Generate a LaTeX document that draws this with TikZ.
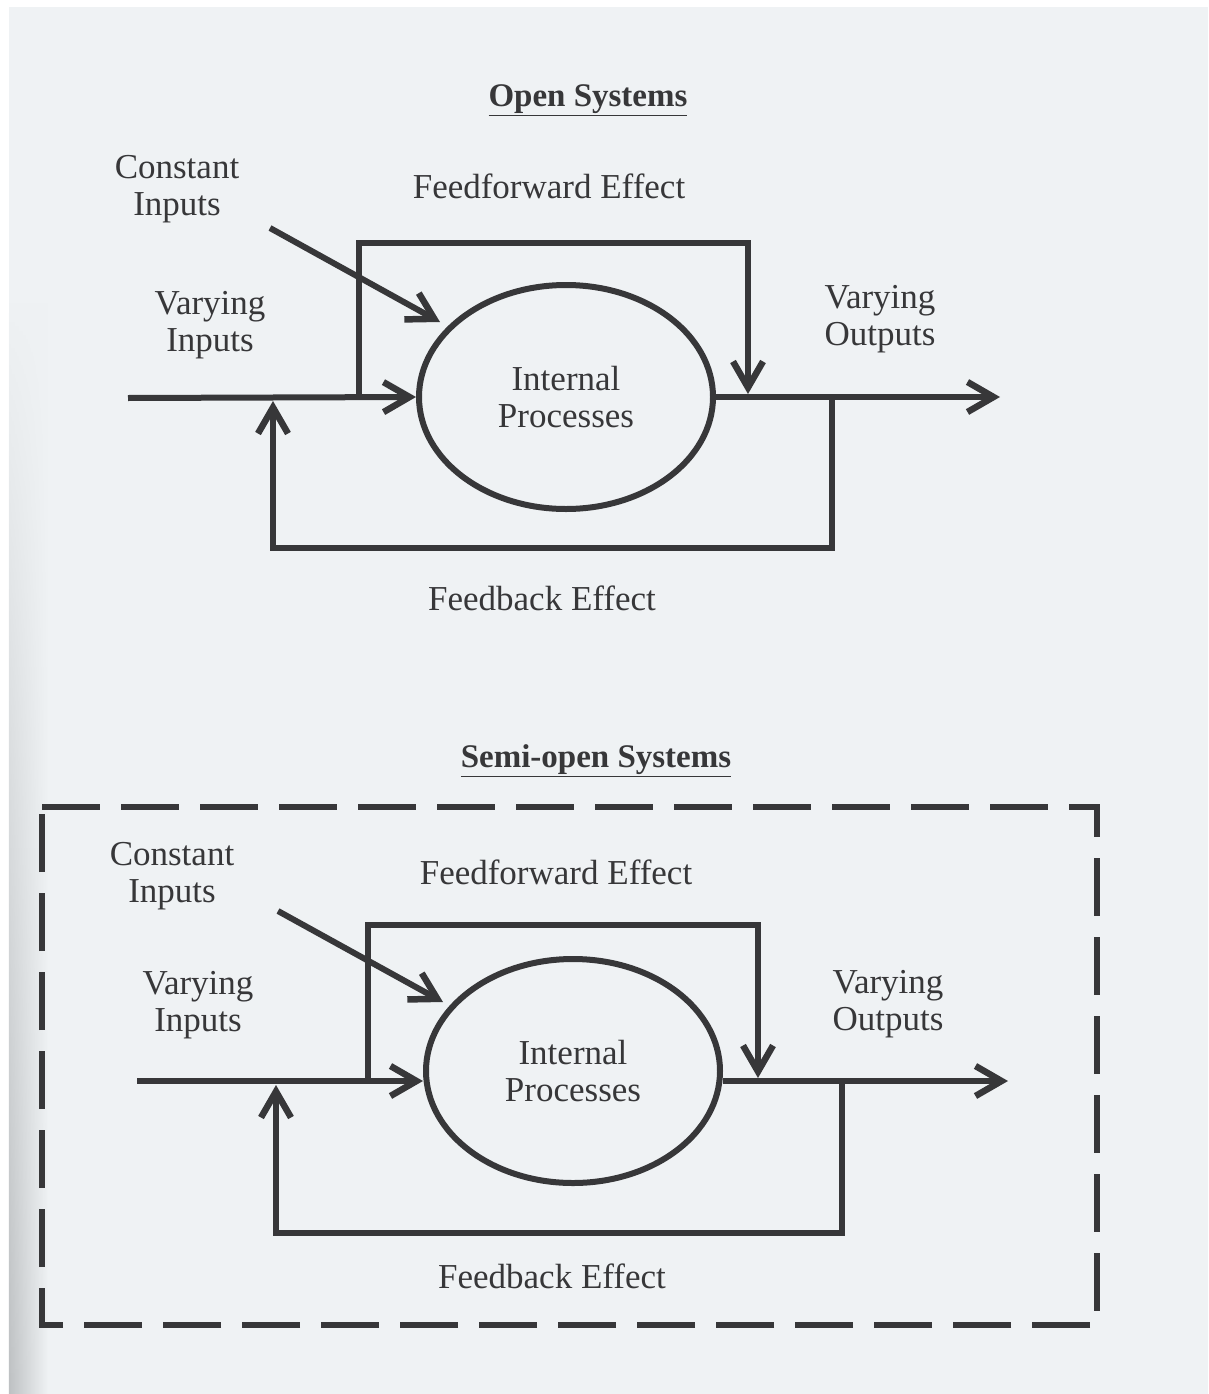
\documentclass[tikz,border=0pt]{standalone}
\usepackage{fontspec}
\setmainfont{Liberation Serif}
\usetikzlibrary{arrows.meta,shapes.geometric,fadings}
\definecolor{paper}{RGB}{239,242,244}
\definecolor{ink}{RGB}{55,55,57}
\definecolor{shade}{RGB}{190,193,195}
\begin{document}
\begin{tikzpicture}[x=1pt,y=-1pt,
  lbl/.style={font=\fontsize{35}{37}\selectfont, text=ink, align=center, inner sep=0pt},
  ttl/.style={font=\fontsize{33}{36}\selectfont\bfseries, text=ink, inner sep=0pt},
  proc/.style={ellipse, draw=ink, line width=6pt, minimum width=294pt, minimum height=224pt,
               inner sep=0pt, font=\fontsize{35}{37}\selectfont, text=ink, align=center},
  wire/.style={draw=ink, line width=6pt},
  flow/.style={wire, -{Straight Barb[length=26pt,width=30pt,line width=6.5pt]}},
  boundary/.style={draw=ink, line width=6pt, dash pattern=on 58pt off 21pt}]
% page
\useasboundingbox (0,0) rectangle (1208,1394);
\fill[white] (0,0) rectangle (1208,1394);
\fill[paper] (9,7) rectangle (1208,1394);
\shade[left color=shade, right color=paper, path fading=north] (9,300) rectangle (48,1394);

% ---------------- Open systems ----------------
\node[ttl] (t1) at (588,100) {\underline{Open Systems}};
\node[lbl] (ci1l) at (177,189) {Constant\\Inputs};
\node[lbl] (ff1l) at (549,186) {Feedforward Effect};
\node[lbl] (vi1l) at (210,325) {Varying\\Inputs};
\node[lbl] (vo1l) at (880,319) {Varying\\Outputs};
\node[lbl] (fb1l) at (542,598) {Feedback Effect};
\node[proc] (p1) at (566,397) {Internal\\Processes};

\coordinate (in1) at (128,398);
\coordinate (ffa1) at (359,398);
\coordinate (ffb1) at (359,243);
\coordinate (ffc1) at (748,243);
\coordinate (ffd1) at (748,394);
\coordinate (out1) at (1000,397);
\coordinate (fba1) at (832,399);
\coordinate (fbb1) at (832,548);
\coordinate (fbc1) at (273,548);
\coordinate (fbd1) at (273,401);
\coordinate (cia1) at (270,228);
\coordinate (cib1) at (440,322);

\draw[flow] (in1) -- (p1.west);
\draw[flow] (p1.east) -- (out1);
\draw[flow, line join=miter] (ffa1) -- (ffb1) -- (ffc1) -- (ffd1);
\draw[flow, line join=miter] (fba1) -- (fbb1) -- (fbc1) -- (fbd1);
\draw[flow] (cia1) -- (cib1);

% ---------------- Semi-open systems ----------------
\node[ttl] (t2) at (596,761) {\underline{Semi-open Systems}};
\draw[boundary] (42,807) -- (1097,807) -- (1097,1325) -- (42,1325) -- cycle;
\node[lbl] (ci2l) at (172,876) {Constant\\Inputs};
\node[lbl] (ff2l) at (556,872) {Feedforward Effect};
\node[lbl] (vi2l) at (198,1005) {Varying\\Inputs};
\node[lbl] (vo2l) at (888,1004) {Varying\\Outputs};
\node[lbl] (fb2l) at (552,1276) {Feedback Effect};
\node[proc] (p2) at (573,1071) {Internal\\Processes};

\coordinate (in2) at (137,1081);
\coordinate (ffa2) at (368,1081);
\coordinate (ffb2) at (368,925);
\coordinate (ffc2) at (758,925);
\coordinate (ffd2) at (758,1078);
\coordinate (out2) at (1008,1081);
\coordinate (fba2) at (842,1083);
\coordinate (fbb2) at (842,1233);
\coordinate (fbc2) at (276,1233);
\coordinate (fbd2) at (276,1085);
\coordinate (cia2) at (278,911);
\coordinate (cib2) at (443,1002);

\draw[flow] (in2) -- (p2.west |- in2);
\draw[flow] (p2.east |- out2) -- (out2);
\draw[flow, line join=miter] (ffa2) -- (ffb2) -- (ffc2) -- (ffd2);
\draw[flow, line join=miter] (fba2) -- (fbb2) -- (fbc2) -- (fbd2);
\draw[flow] (cia2) -- (cib2);
\end{tikzpicture}
\end{document}
